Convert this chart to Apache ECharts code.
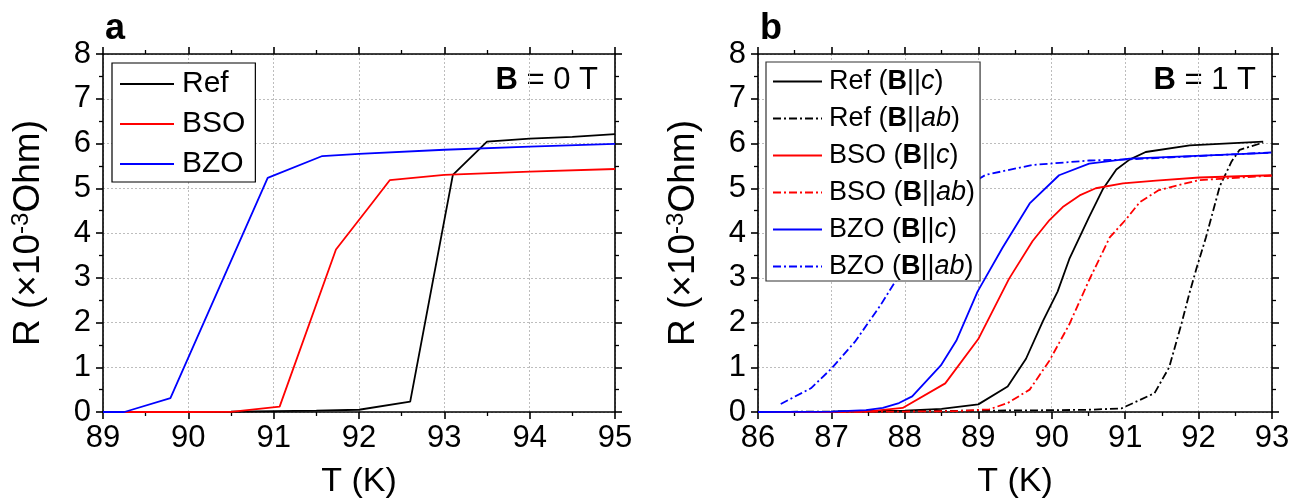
<!DOCTYPE html>
<html>
<head>
<meta charset="utf-8">
<script src="https://cdn.jsdelivr.net/npm/echarts@6/dist/echarts.min.js"></script>
<style>
html,body{margin:0;padding:0;background:#fff;}
#chart{width:1300px;height:504px;}
</style>
</head>
<body>
<div id="chart"></div>
<script>
// ---------- Panel a (B = 0 T) ----------
const xTicksA = [89, 90, 91, 92, 93, 94, 95];
const yTicks = [0, 1, 2, 3, 4, 5, 6, 7, 8];
const refA_T = [89, 89.5, 90, 90.5, 91, 91.5, 92, 92.6, 93.1, 93.5, 94, 94.5, 95];
const refA_R = [0, 0, 0.005, 0.01, 0.02, 0.03, 0.05, 0.23, 5.3, 6.04, 6.11, 6.15, 6.21];
const bsoA_T = [89, 89.5, 90, 90.5, 91.07, 91.73, 92.15, 92.36, 93.0, 94, 95];
const bsoA_R = [0, 0, 0, 0.005, 0.12, 3.63, 4.66, 5.18, 5.3, 5.37, 5.43];
const bzoA_T = [89, 89.25, 89.79, 90.93, 91.57, 92, 93, 94, 95];
const bzoA_R = [0, 0, 0.31, 5.23, 5.72, 5.77, 5.86, 5.93, 5.99];

// ---------- Panel b (B = 1 T) ----------
const xTicksB = [86, 87, 88, 89, 90, 91, 92, 93];
const refC_T = [86, 87, 88, 88.5, 89.0, 89.4, 89.65, 89.88, 90.08, 90.24, 90.51, 90.7, 90.88, 91.06, 91.28, 91.88, 92.88];
const refC_R = [0, 0.01, 0.03, 0.07, 0.17, 0.57, 1.19, 2.03, 2.69, 3.42, 4.36, 4.99, 5.42, 5.64, 5.81, 5.96, 6.04];
const refAB_T = [86, 87, 88, 89, 90, 90.5, 90.95, 91.4, 91.6, 91.77, 91.88, 91.97, 92.1, 92.29, 92.45, 92.56, 92.88];
const refAB_R = [0, 0.01, 0.02, 0.03, 0.04, 0.05, 0.08, 0.42, 1.0, 1.99, 2.68, 3.2, 3.9, 5.05, 5.6, 5.86, 6.02];
const bsoC_T = [86, 87, 87.47, 87.97, 88.55, 89.0, 89.42, 89.74, 89.97, 90.15, 90.38, 90.6, 90.97, 91.42, 92.01, 92.99];
const bsoC_R = [0, 0.005, 0.01, 0.09, 0.64, 1.63, 2.98, 3.82, 4.29, 4.58, 4.84, 5.0, 5.11, 5.17, 5.24, 5.29];
const bsoAB_T = [86, 87, 88, 88.7, 89.15, 89.4, 89.7, 89.97, 90.24, 90.51, 90.79, 91.01, 91.2, 91.45, 91.7, 92.0, 92.56, 93];
const bsoAB_R = [0, 0, 0.01, 0.02, 0.06, 0.2, 0.5, 1.15, 1.96, 2.95, 3.9, 4.3, 4.69, 4.95, 5.06, 5.18, 5.24, 5.28];
const bzoC_T = [86, 87, 87.47, 87.7, 87.92, 88.1, 88.49, 88.7, 88.99, 89.33, 89.7, 90.1, 90.51, 91.06, 92.95];
const bzoC_R = [0, 0.01, 0.04, 0.09, 0.2, 0.35, 1.04, 1.59, 2.69, 3.67, 4.66, 5.29, 5.55, 5.66, 5.79];
const bzoAB_T = [86.31, 86.72, 87.0, 87.33, 87.67, 87.92, 88.2, 88.5, 88.8, 89.1, 89.74, 90.51, 90.97, 92, 93];
const bzoAB_R = [0.18, 0.53, 0.97, 1.59, 2.39, 3.05, 3.9, 4.55, 5.0, 5.3, 5.52, 5.62, 5.64, 5.72, 5.8];

const FONT = 'Liberation Sans, Arial, Helvetica, sans-serif';
const pairs = (t, r) => t.map((v, i) => [v, r[i]]);
const DASHDOT = [8, 3, 2, 3];

function xAx(gridIndex, min, max, top) {
  return {
    type: 'value', gridIndex, min, max, interval: 1,
    position: top ? 'top' : 'bottom',
    name: top ? '' : 'T (K)', nameLocation: 'middle', nameGap: 53,
    nameTextStyle: { fontFamily: FONT, fontSize: 34, color: '#000' },
    axisLine: { show: true, onZero: false, lineStyle: { color: '#000', width: 1.6 } },
    axisTick: { show: true, inside: false, length: 7, lineStyle: { color: '#000', width: 1.6 } },
    minorTick: { show: true, splitNumber: 2, length: 4, lineStyle: { color: '#000', width: 1.3 } },
    axisLabel: { show: !top, margin: 11, fontFamily: FONT, fontSize: 31, color: '#000' },
    splitLine: { show: !top, lineStyle: { color: '#bdbdbd', type: [2, 2], width: 1 } },
    minorSplitLine: { show: false }
  };
}
function yAx(gridIndex, right) {
  return {
    type: 'value', gridIndex, min: 0, max: 8, interval: 1,
    position: right ? 'right' : 'left',
    name: right ? '' : 'R (×10{sup|-3}Ohm)', nameLocation: 'middle', nameGap: 54, nameRotate: 90,
    nameTextStyle: { fontFamily: FONT, fontSize: 37, color: '#000', lineHeight: 40,
      rich: { sup: { fontFamily: FONT, fontSize: 24, color: '#000', verticalAlign: 'top', lineHeight: 24 } } },
    axisLine: { show: true, onZero: false, lineStyle: { color: '#000', width: 1.6 } },
    axisTick: { show: true, inside: false, length: 7, lineStyle: { color: '#000', width: 1.6 } },
    minorTick: { show: true, splitNumber: 2, length: 4, lineStyle: { color: '#000', width: 1.3 } },
    axisLabel: { show: !right, margin: 12, fontFamily: FONT, fontSize: 31, color: '#000' },
    splitLine: { show: !right, lineStyle: { color: '#bdbdbd', type: [2, 2], width: 1 } }
  };
}
function line(name, xi, yi, t, r, color, dashed) {
  return {
    name, type: 'line', xAxisIndex: xi, yAxisIndex: yi,
    data: pairs(t, r), symbol: 'none', showSymbol: false, smooth: false,
    lineStyle: { color, width: 1.8, type: dashed ? DASHDOT : 'solid' },
    itemStyle: { color }, emphasis: { disabled: true }, animation: false
  };
}

const legendNamesB = {
  'Ref c': 'Ref ({b|B}||{i|c})',
  'Ref ab': 'Ref ({b|B}||{i|ab})',
  'BSO c': 'BSO ({b|B}||{i|c})',
  'BSO ab': 'BSO ({b|B}||{i|ab})',
  'BZO c': 'BZO ({b|B}||{i|c})',
  'BZO ab': 'BZO ({b|B}||{i|ab})'
};

const option = {
  backgroundColor: '#fff',
  animation: false,
  grid: [
    { left: 103, right: 685, top: 54, bottom: 85 },
    { left: 758, right: 28, top: 54, bottom: 85 }
  ],
  xAxis: [xAx(0, 89, 95, false), xAx(0, 89, 95, true), xAx(1, 86, 93, false), xAx(1, 86, 93, true)],
  yAxis: [yAx(0, false), yAx(0, true), yAx(1, false), yAx(1, true)],
  legend: [
    {
      data: ['Ref', 'BSO', 'BZO'], left: 112, top: 63, orient: 'vertical',
      itemWidth: 54, itemHeight: 12, itemGap: 10, padding: [6, 10, 3, 7],
      borderColor: '#000', borderWidth: 1.2, backgroundColor: '#fff',
      itemStyle: { opacity: 0 },
      textStyle: { fontFamily: FONT, fontSize: 30, color: '#000', lineHeight: 30, padding: [0, 0, 0, 3] },
      selectedMode: false
    },
    {
      data: ['Ref c', 'Ref ab', 'BSO c', 'BSO ab', 'BZO c', 'BZO ab'], left: 766, top: 62, orient: 'vertical',
      itemWidth: 49, itemHeight: 12, itemGap: 10, padding: [6, 5, 1, 6],
      borderColor: '#333', borderWidth: 1.2, backgroundColor: '#fff',
      itemStyle: { opacity: 0 },
      formatter: n => legendNamesB[n],
      textStyle: { fontFamily: FONT, fontSize: 27, color: '#000', lineHeight: 26, padding: [0, 0, 0, 2],
        rich: {
          b: { fontFamily: FONT, fontSize: 27, fontWeight: 'bold', color: '#000', lineHeight: 26 },
          i: { fontFamily: FONT, fontSize: 27, fontStyle: 'italic', color: '#000', lineHeight: 26 }
        } },
      selectedMode: false
    }
  ],
  graphic: [
    { type: 'text', left: 105, top: 11, style: { text: 'a', font: 'bold 36px ' + FONT, fill: '#000' } },
    { type: 'text', left: 760, top: 11, style: { text: 'b', font: 'bold 36px ' + FONT, fill: '#000' } },
    { type: 'text', right: 1300 - 598, top: 65, style: { text: '{b|B} = 0 T', font: '31px ' + FONT, fill: '#000',
        rich: { b: { font: 'bold 31px ' + FONT, fill: '#000' } } } },
    { type: 'text', right: 1300 - 1256, top: 65, style: { text: '{b|B} = 1 T', font: '31px ' + FONT, fill: '#000',
        rich: { b: { font: 'bold 31px ' + FONT, fill: '#000' } } } }
  ],
  series: [
    line('Ref', 0, 0, refA_T, refA_R, '#000000', false),
    line('BSO', 0, 0, bsoA_T, bsoA_R, '#ff0000', false),
    line('BZO', 0, 0, bzoA_T, bzoA_R, '#0000ff', false),
    line('Ref c', 2, 2, refC_T, refC_R, '#000000', false),
    line('Ref ab', 2, 2, refAB_T, refAB_R, '#000000', true),
    line('BSO c', 2, 2, bsoC_T, bsoC_R, '#ff0000', false),
    line('BSO ab', 2, 2, bsoAB_T, bsoAB_R, '#ff0000', true),
    line('BZO c', 2, 2, bzoC_T, bzoC_R, '#0000ff', false),
    line('BZO ab', 2, 2, bzoAB_T, bzoAB_R, '#0000ff', true)
  ]
};

const chart = echarts.init(document.getElementById('chart'), null, { renderer: 'canvas' });
chart.setOption(option);
</script>
</body>
</html>
